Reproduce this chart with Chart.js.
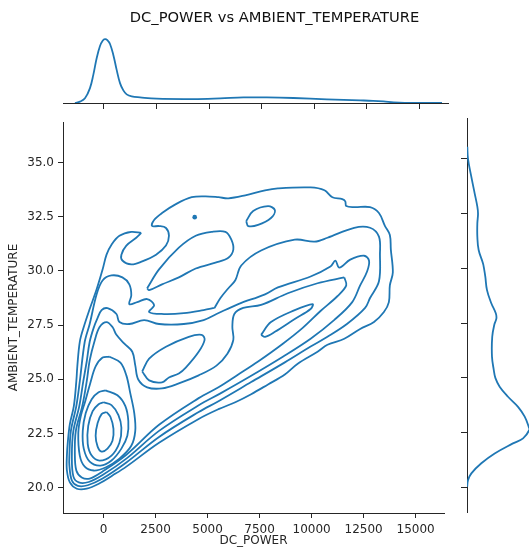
<!DOCTYPE html>
<html>
<head>
<meta charset="utf-8">
<script src="https://cdn.jsdelivr.net/npm/chart.js@4.4.1/dist/chart.umd.min.js"></script>
<style>
html,body{margin:0;padding:0;background:#fff;overflow:hidden;width:529px;height:557px}
canvas{position:absolute}
</style>
</head>
<body>
<canvas id="top-chart" width="549" height="110" style="left:0px;top:0px"></canvas>
<canvas id="main-chart" width="448" height="439" style="left:0px;top:118px"></canvas>
<canvas id="right-chart" width="85" height="395" style="left:461px;top:118px"></canvas>
<script>
// axes
const xTicks=[0,2500,5000,7500,10000,12500,15000]
const yTicks=[20,22.5,25,27.5,30,32.5,35]
const xMin=-1950, xMax=16365
const yMin=18.83, yMax=36.87

// marginal kde of DC_POWER (relative density, peak = 1)
const powerGrid=[-1381,-1143,-905,-667,-508,-349,-190,-63,48,159,286,444,603,762,921,1079,1317,1714,2508,4254,5524,6635,7746,9016,10603,12190,12800,13300,13778,14300,16079]
const powerDens=[0,0.021,0.073,0.233,0.441,0.700,0.892,0.975,1.0,0.985,0.923,0.752,0.518,0.311,0.197,0.135,0.104,0.088,0.067,0.062,0.073,0.088,0.088,0.078,0.057,0.041,0.034,0.024,0.010,0.003,0]

// marginal kde of AMBIENT_TEMPERATURE (relative density, peak = 1)
const tempGrid=[35.56,35.0,34.19,33.43,32.82,32.5,32.06,31.45,30.84,30.23,30.0,29.62,29.01,28.41,27.95,27.72,27.45,26.88,25.97,25.36,25.0,24.6,24.14,23.68,23.23,22.77,22.62,22.24,22.01,21.55,21.10,20.64,20.33,20.03]
const tempDens=[0.005,0.016,0.069,0.123,0.166,0.177,0.166,0.166,0.187,0.257,0.273,0.294,0.321,0.39,0.462,0.472,0.44,0.405,0.401,0.43,0.455,0.524,0.658,0.819,0.926,0.99,1.0,0.9,0.738,0.444,0.23,0.07,0.016,0.003]

// joint kde contour lines, [DC_POWER, AMBIENT_TEMPERATURE]
const outerLevel=[[1810,31.75],[1333,31.80],[762,31.62],[381,31.21],[143,30.75],[-48,30.06],[-333,29.15],[-667,28.24],[-952,27.41],[-1143,26.73],[-1262,25.59],[-1310,24.90],[-1429,23.76],[-1619,22.94],[-1714,22.16],[-1762,21.48],[-1762,20.79],[-1619,20.24],[-1286,19.95],[-810,19.95],[-190,20.20],[429,20.56],[1095,20.97],[2667,22.07],[4572,23.17],[5524,23.62],[6333,23.94],[7095,24.31],[7905,24.76],[8714,25.22],[9334,25.72],[10286,26.27],[10762,26.59],[11572,26.87],[12334,27.32],[13000,27.64],[13476,28.10],[13715,28.56],[13762,29.33],[13905,29.93],[13810,30.98],[13762,31.66],[13524,32.08],[13238,32.67],[12810,32.94],[12048,32.94],[11667,32.99],[11619,33.21],[11476,33.31],[11000,33.40],[10619,33.72],[9953,33.85],[8381,33.81],[7762,33.72],[6810,33.49],[6000,33.35],[5524,33.40],[4905,33.44],[4238,33.40],[3476,33.08],[2810,32.67],[2429,32.35],[2333,32.07],[2667,32.07],[3000,31.98],[3143,31.62],[3000,31.17],[2524,30.75],[1857,30.44],[1333,30.30],[905,30.48],[857,30.75],[1095,31.17],[1571,31.53]]
const fishLevel=[[2095,29.20],[2667,30.07],[3619,31.07],[4429,31.62],[5191,31.80],[5857,31.80],[6143,31.44],[6238,30.98],[6000,30.61],[5381,30.38],[4429,30.11],[3619,29.70],[2810,29.38],[2191,29.11]]
const isletLevel=[[6857,32.30],[7191,32.76],[7905,32.99],[8238,32.80],[8048,32.44],[7429,32.12],[6953,32.07]]
const dotLevel=[[4381,32.48]]
const ridgeA=[[5333,28.29],[5619,28.75],[6000,29.20],[6333,29.57],[6619,30.25],[7572,30.94],[9191,31.44],[10143,31.35],[10762,31.53],[12048,31.99],[12810,31.99],[13238,31.58],[13286,30.76],[13238,29.52],[12810,28.75],[12572,28.29],[11715,27.56],[10762,26.96],[9953,26.51],[8714,25.78],[7095,24.87],[5524,23.99],[4572,23.49],[2667,22.34],[1095,21.16],[-48,20.42],[-762,20.11],[-1238,20.08],[-1524,20.33],[-1643,21.02],[-1643,21.48],[-1571,22.62],[-1310,23.76],[-1143,24.90],[-905,26.73],[-667,27.55],[-333,28.92],[-48,29.56],[381,29.79],[905,29.70],[1238,29.38],[1333,28.88],[1238,28.47],[1619,28.56],[2095,28.70],[2429,28.42],[2191,28.10],[2905,28.01],[3857,28.05],[4810,28.19]]
const ridgeB=[[5429,28.01],[6476,28.47],[7762,28.92],[8381,29.24],[9953,29.74],[10905,30.20],[11143,30.47],[11334,30.15],[11857,30.52],[12524,30.70],[12762,30.47],[12667,29.97],[12334,29.33],[11953,28.56],[11095,27.74],[9953,26.87],[8619,26.04],[6953,25.08],[5619,24.35],[4572,23.80],[2667,22.62],[1095,21.34],[-48,20.58],[-714,20.26],[-1190,20.24],[-1452,20.52],[-1524,21.48],[-1452,22.62],[-1167,23.76],[-976,24.90],[-810,25.82],[-667,26.73],[-476,27.37],[-286,27.83],[-95,28.19],[190,28.28],[619,28.01],[762,27.64],[1238,27.55],[1952,27.73],[2667,27.55],[3857,27.55],[4810,27.73]]
const ridgeC=[[11572,29.70],[10286,29.43],[8857,28.97],[7572,28.43],[6714,28.29],[6286,28.01],[6191,27.42],[6238,26.82],[5953,26.18],[5429,25.63],[4572,25.18],[3619,24.81],[2810,24.58],[2095,24.63],[1667,24.99],[1524,25.64],[1381,26.27],[1000,26.64],[619,27.05],[429,27.41],[143,27.64],[-190,27.41],[-429,26.78],[-667,25.87],[-810,24.90],[-1024,23.76],[-1333,22.62],[-1381,21.61],[-1310,20.79],[-1048,20.47],[-667,20.42],[-48,20.75],[1095,21.52],[2667,22.90],[4572,24.13],[5524,24.63],[6476,25.22],[7429,25.82],[8619,26.64],[9572,27.37],[10429,28.15],[11238,28.83],[11667,29.33]]
const pocketLevel=[[1857,25.36],[2191,25.95],[3000,26.50],[4095,26.96],[4714,27.05],[4857,26.82],[4572,26.27],[3952,25.54],[3619,25.27],[3143,25.08],[2810,24.86],[2191,24.95]]
const tongueLevel=[[7572,27.05],[8048,27.64],[9191,28.19],[10048,28.47],[9953,28.24],[9191,27.78],[8238,27.19],[7762,26.96]]
const coreA=[[286,26.04],[810,25.77],[1095,25.18],[1286,24.35],[1476,23.44],[1524,22.62],[1333,21.93],[762,21.34],[95,20.93],[-476,20.79],[-905,20.97],[-1143,21.48],[-1214,22.53],[-1095,23.30],[-881,23.99],[-643,24.81],[-381,25.59],[-48,26.00]]
const coreB=[[95,24.49],[667,24.26],[1048,23.76],[1190,23.07],[1143,22.39],[857,21.80],[381,21.25],[-143,21.02],[-667,21.20],[-952,21.80],[-1000,22.62],[-857,23.44],[-571,24.08],[-238,24.40]]
const coreC=[[0,23.94],[381,23.81],[714,23.35],[857,22.76],[762,22.07],[381,21.48],[-190,21.25],[-571,21.48],[-762,22.02],[-738,22.85],[-524,23.53],[-238,23.85]]
const coreD=[[143,23.49],[333,23.26],[476,22.71],[429,22.16],[190,21.80],[-95,21.66],[-286,21.89],[-381,22.39],[-286,22.98],[-95,23.39]]

const lineColor='#1f77b4'
const axisColor='#262626'
Chart.defaults.font.family='DejaVu Sans'

const toPoints=arr=>arr.map(p=>({x:p[0],y:p[1]}))
const closed=arr=>toPoints([...arr,arr[0]])
const setTicks=list=>scale=>{scale.ticks=list.map(v=>({value:v}))}

const baseOpts={
    responsive:false,
    animation:false,
    events:[],
    plugins:{legend:{display:false},tooltip:{enabled:false}},
    layout:{padding:0}
}

//main joint plot
const loops=[outerLevel,fishLevel,isletLevel,ridgeA,ridgeB,ridgeC,pocketLevel,tongueLevel,coreA,coreB,coreC,coreD]
const mainSets=loops.map(l=>({
    data:closed(l),
    showLine:true,
    borderColor:lineColor,
    borderWidth:1.8,
    pointRadius:0,
    tension:0.35,
    fill:false
}))
mainSets.push({data:toPoints(dotLevel),pointRadius:2.3,backgroundColor:lineColor,borderWidth:0})

new Chart(document.getElementById("main-chart"),{
    type:'scatter',
    data:{datasets:mainSets},
    options:{...baseOpts,
        scales:{
            x:{
                type:'linear',min:xMin,max:xMax,
                afterBuildTicks:setTicks(xTicks),
                afterFit:s=>{s.height=44;s.paddingLeft=0;s.paddingRight=0},
                grid:{drawOnChartArea:false,tickLength:5,color:axisColor},
                border:{color:axisColor,width:1},
                ticks:{padding:6,color:axisColor,autoSkip:false,maxRotation:0,font:{size:12,lineHeight:1},callback:v=>String(v)},
                title:{display:true,text:'DC_POWER',color:axisColor,font:{size:12,lineHeight:1},padding:{top:0,bottom:10}}
            },
            y:{
                type:'linear',min:yMin,max:yMax,
                afterBuildTicks:setTicks(yTicks),
                afterFit:s=>{s.width=63;s.paddingTop=0;s.paddingBottom=0},
                grid:{drawOnChartArea:false,tickLength:5,color:axisColor},
                border:{color:axisColor,width:1},
                ticks:{padding:4,color:axisColor,font:{size:12,lineHeight:1.2},callback:v=>v.toFixed(1)},
                title:{display:true,text:'AMBIENT_TEMPERATURE',color:axisColor,font:{size:12,lineHeight:1},padding:{top:8,bottom:0}}
            }
        }
    }
})

//top marginal
new Chart(document.getElementById("top-chart"),{
    type:'scatter',
    data:{datasets:[{
        data:powerGrid.map((v,i)=>({x:v,y:powerDens[i]})),
        showLine:true,borderColor:lineColor,borderWidth:1.8,pointRadius:0,tension:0.4,fill:false
    }]},
    options:{...baseOpts,
        plugins:{...baseOpts.plugins,
            title:{display:true,text:'DC_POWER vs AMBIENT_TEMPERATURE',color:'#111',
                font:{size:14.7,weight:'normal',lineHeight:1},padding:{top:11,bottom:0}}
        },
        scales:{
            x:{
                type:'linear',min:xMin,max:xMax,
                afterBuildTicks:setTicks(xTicks),
                afterFit:s=>{s.height=7;s.paddingLeft=0;s.paddingRight=0},
                grid:{drawOnChartArea:false,tickLength:6,color:axisColor},
                border:{color:axisColor,width:1},
                ticks:{display:false}
            },
            y:{
                type:'linear',min:0,max:1.21,position:'left',
                afterFit:s=>{s.width=63},
                grid:{display:false},border:{display:false},ticks:{display:false}
            },
            y2:{
                type:'linear',axis:'y',position:'right',min:0,max:1,
                afterFit:s=>{s.width=101},
                grid:{display:false},border:{display:false},ticks:{display:false}
            }
        }
    }
})

//right marginal
new Chart(document.getElementById("right-chart"),{
    type:'scatter',
    data:{datasets:[{
        data:tempGrid.map((v,i)=>({x:tempDens[i],y:v})),
        showLine:true,borderColor:lineColor,borderWidth:1.8,pointRadius:0,tension:0.4,fill:false
    }]},
    options:{...baseOpts,
        scales:{
            x:{type:'linear',display:false,min:0,max:1.268},
            y:{
                type:'linear',min:yMin,max:yMax,
                afterBuildTicks:setTicks(yTicks),
                afterFit:s=>{s.width=6;s.paddingTop=0;s.paddingBottom=0},
                grid:{drawOnChartArea:false,tickLength:6,color:axisColor},
                border:{color:axisColor,width:1},
                ticks:{display:false}
            }
        }
    }
})
</script>
</body>
</html>
